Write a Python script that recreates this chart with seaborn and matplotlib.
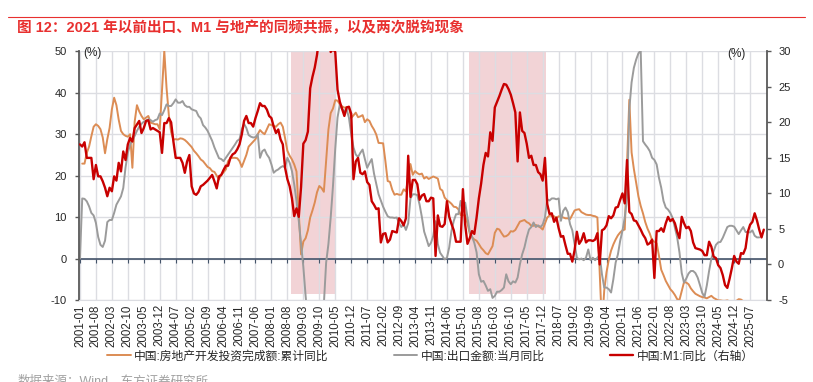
import numpy as np
import pandas as pd
import matplotlib
matplotlib.use('Agg')
import matplotlib.pyplot as plt
import seaborn as sns
from matplotlib.lines import Line2D

sns.set_style('white')
plt.rcParams['font.family'] = ['Liberation Sans', 'Noto Sans CJK SC']
plt.rcParams['axes.unicode_minus'] = False

nan = np.nan

# 月度序列：2001-01 ~ 2026-01
start_month = '2001-01'
end_month = '2026-01'

# 中国:房地产开发投资完成额:累计同比 (左轴, %)
estate_yoy = [
    nan, 22.9, 22.9, 25.5, 27.0, 29.5, 31.8, 32.4, 32.0, 31.2, 29.2, 25.4,  # 2001
    28.8, 31.5, 36.0, 38.8, 37.0, 33.5, 30.8, 30.0, 29.6, 29.4, 30.0, 21.9,  # 2002
    33.0, 37.0, 35.5, 34.4, 33.6, 34.0, 34.4, 32.8, 32.6, 32.4, 32.4, 31.2,  # 2003
    nan, 50.1, 41.1, 34.6, 30.5, 28.7, 28.8, 28.7, 29.0, 28.9, 28.6, 28.1,  # 2004
    nan, 26.9, 26.0, 25.4, 24.7, 23.9, 23.5, 22.8, 22.1, 21.8, 21.1, 20.9,  # 2005
    nan, 19.1, 20.2, 20.8, 21.5, 23.5, 24.2, 24.3, 24.3, 24.2, 23.5, 22.1,  # 2006
    nan, 25.0, 27.0, 27.6, 28.2, 28.8, 30.0, 31.0, 30.4, 30.0, 31.2, 32.4,  # 2007
    nan, 32.0, 31.8, 32.4, 32.8, 31.8, 29.0, 26.0, 24.8, 23.9, 22.7, 21.0,  # 2008
    nan, 1.0, 4.1, 4.9, 6.8, 9.9, 11.6, 13.5, 16.0, 17.5, 17.0, 16.1,  # 2009
    nan, 31.1, 35.1, 36.2, 38.2, 38.1, 37.2, 36.7, 36.4, 36.5, 36.5, 33.9,  # 2010
    nan, 35.2, 34.1, 34.3, 34.6, 32.9, 33.6, 33.2, 32.0, 31.1, 29.9, 27.9,  # 2011
    nan, 27.8, 23.5, 18.7, 18.5, 16.6, 15.4, 15.6, 15.4, 15.4, 16.7, 16.2,  # 2012
    nan, 22.8, 20.2, 21.1, 20.6, 20.3, 20.5, 19.3, 19.7, 19.2, 19.5, 19.8,  # 2013
    nan, 19.3, 16.8, 16.4, 14.7, 14.1, 13.7, 13.2, 12.5, 12.4, 11.9, 10.5,  # 2014
    nan, 10.4, 8.5, 6.0, 5.1, 4.6, 4.3, 3.5, 2.6, 2.0, 1.3, 1.0,  # 2015
    nan, 3.0, 6.2, 7.2, 7.0, 6.1, 5.3, 5.4, 5.8, 6.6, 6.5, 6.9,  # 2016
    nan, 8.9, 9.1, 9.3, 8.8, 8.5, 7.9, 7.9, 8.1, 7.8, 7.5, 7.0,  # 2017
    nan, 9.9, 10.4, 10.3, 10.2, 9.7, 10.2, 10.1, 9.9, 9.7, 9.7, 9.5,  # 2018
    nan, 11.6, 11.8, 11.9, 11.2, 10.9, 10.6, 10.5, 10.5, 10.3, 10.2, 9.9,  # 2019
    nan, -16.3, -7.7, -3.3, -0.3, 1.9, 3.4, 4.6, 5.6, 6.3, 6.8, 7.0,  # 2020
    nan, 38.3, 25.6, 21.6, 18.3, 15.0, 12.7, 10.9, 8.8, 7.2, 6.0, 4.4,  # 2021
    nan, 3.7, 0.7, -2.7, -4.0, -5.4, -6.4, -7.4, -8.0, -8.8, -9.8, -10.0,  # 2022
    nan, -5.7, -5.8, -6.2, -7.2, -7.9, -8.5, -8.8, -9.1, -9.3, -9.4, -9.6,  # 2023
    nan, -9.0, -9.5, -9.8, -10.1, -10.1, -10.2, -10.2, -10.1, -10.3, -10.4, -10.6,  # 2024
    nan, -9.8, -9.9, -10.3, -10.7, -11.2, -12.0, -12.9, -13.9, -14.7, -15.9, -17.2,  # 2025
    nan,  # 2026
]

# 中国:出口金额:当月同比 (左轴, %)
export_yoy = [
    0.0, 14.5, 14.4, 13.8, 12.6, 11.0, 10.4, 8.6, 5.2, 3.3, 2.8, 4.3,  # 2001
    8.8, 9.3, 9.3, 11.0, 13.0, 14.0, 15.0, 17.0, 22.0, 25.5, 27.5, 28.5,  # 2002
    29.6, 30.8, 31.8, 32.5, 33.0, 33.3, 33.6, 33.4, 33.0, 33.4, 33.6, 35.0,  # 2003
    34.6, 35.8, 37.2, 36.8, 36.8, 37.5, 38.4, 37.6, 37.6, 38.0, 37.0, 36.6,  # 2004
    36.6, 36.0, 35.8, 35.6, 34.4, 33.8, 32.2, 31.6, 30.8, 29.6, 28.4, 26.8,  # 2005
    25.5, 24.2, 24.0, 23.5, 24.3, 25.1, 25.9, 26.7, 27.5, 28.4, 28.8, 31.2,  # 2006
    32.5, 31.5, 29.8, 29.4, 29.2, 29.3, 30.0, 24.3, 25.9, 26.3, 25.1, 24.3,  # 2007
    22.7, 20.7, 21.2, 21.5, 22.0, 22.3, 22.0, 24.3, 23.1, 21.1, 17.9, 13.9,  # 2008
    9.1, 3.5, -2.0, -9.0, -15.0, -19.0, -21.0, -21.0, -20.0, -18.0, -15.0, -11.0,  # 2009
    -1.0, 3.5, 9.9, 17.5, 26.5, 34.0, 37.2, 36.0, 35.6, 36.0, 34.0, 30.0,  # 2010
    26.8, 25.1, 24.5, 25.5, 26.3, 24.0, 21.9, 23.0, 24.0, 20.5, 18.0, 15.5,  # 2011
    14.0, 12.5, 11.3, 10.2, 9.9, 9.9, 9.8, 9.9, 8.5, 7.6, 8.3, 6.9,  # 2012
    8.5, 14.5, 15.5, 15.5, 15.3, 13.0, 10.0, 6.5, 4.8, 3.0, 3.8, 5.5,  # 2013
    9.0, 3.5, 1.4, 0.6, -0.2, 0.2, 2.7, 6.7, 9.1, 10.7, 10.7, 13.9,  # 2014
    11.5, 13.5, 10.0, 6.5, 5.3, 3.8, 1.5, -3.8, -5.6, -5.4, -6.5, -7.8,  # 2015
    -7.4, -9.5, -9.0, -8.0, -8.0, -7.6, -7.0, -3.8, -5.5, -6.2, -5.5, -5.8,  # 2016
    -4.6, -1.4, 1.0, 2.7, 5.1, 7.0, 7.6, 8.7, 7.6, 8.0, 7.6, 8.2,  # 2017
    9.9, 14.3, 14.0, 14.5, 14.5, 14.3, 14.5, 9.1, 11.5, 12.3, 11.2, 8.3,  # 2018
    6.8, 3.5, 0.2, -0.2, 0.0, -0.4, 0.2, 2.2, -0.4, 0.2, -0.4, 0.2,  # 2019
    0.9, -3.8, -7.0, -7.0, -7.4, -8.2, -5.0, -1.0, 1.0, 4.3, 6.7, 9.9,  # 2020
    14.7, 36.0, 42.5, 46.0, 48.0, 49.5, 50.2, 28.3, 27.5, 26.8, 25.9, 24.3,  # 2021
    23.8, 22.7, 19.5, 17.1, 13.9, 12.3, 11.8, 11.0, 9.8, 7.5, 5.1, 1.5,  # 2022
    -3.5, -5.8, -4.8, -3.6, -3.0, -3.0, -3.5, -4.6, -6.4, -8.3, -9.2, -6.5,  # 2023
    -3.0, 0.0, 1.8, 3.3, 3.9, 4.0, 5.0, 6.3, 7.6, 7.9, 7.9, 7.7,  # 2024
    6.8, 5.9, 6.8, 7.6, 6.4, 6.4, 6.3, 6.8, 5.5, 5.1, 5.1, nan,  # 2025
    nan,  # 2026
]

# 中国:M1:同比 (右轴, %)
m1_yoy = [
    16.9, 16.6, 17.2, 15.0, 15.0, 15.0, 12.0, 14.0, 12.4, 12.4, 11.7, 10.8,  # 2001
    9.6, 10.8, 10.3, 12.4, 11.8, 14.3, 13.1, 15.9, 14.7, 16.9, 17.8, 17.3,  # 2002
    19.2, 19.7, 20.2, 18.5, 19.2, 20.2, 20.3, 19.0, 19.2, 19.0, 18.8, 18.6,  # 2003
    15.7, 19.9, 19.9, 20.6, 20.0, 17.3, 15.0, 15.0, 15.0, 14.3, 12.9, 14.5,  # 2004
    15.4, 11.0, 10.0, 9.8, 10.2, 11.0, 11.2, 11.5, 11.8, 12.2, 12.6, 11.7,  # 2005
    10.7, 12.4, 12.6, 13.3, 13.9, 13.9, 15.0, 15.5, 15.7, 16.2, 16.9, 18.3,  # 2006
    20.2, 20.9, 19.9, 19.9, 19.4, 20.6, 21.6, 22.7, 22.3, 22.3, 21.8, 20.9,  # 2007
    20.6, 19.4, 18.5, 19.0, 17.6, 16.9, 13.6, 12.0, 11.0, 9.3, 6.8, 7.9,  # 2008
    6.7, 10.9, 17.0, 17.5, 18.7, 24.8, 26.4, 27.7, 29.5, 32.0, 34.6, 32.4,  # 2009
    39.0, 35.0, 29.9, 30.3, 29.9, 24.6, 22.9, 21.9, 20.9, 22.1, 22.2, 21.2,  # 2010
    12.0, 14.5, 15.0, 12.9, 12.7, 13.1, 11.6, 11.2, 8.9, 8.4, 7.8, 7.9,  # 2011
    3.1, 4.3, 4.4, 3.1, 3.5, 4.7, 4.6, 4.5, 6.5, 6.1, 5.5, 6.5,  # 2012
    15.3, 9.5, 11.9, 11.9, 11.3, 9.1, 9.7, 9.9, 8.9, 8.9, 9.4, 9.3,  # 2013
    1.2, 6.9, 5.4, 5.3, 5.7, 8.9, 6.7, 5.7, 4.8, 3.2, 3.2, 3.2,  # 2014
    10.6, 5.6, 2.9, 3.7, 4.7, 4.3, 6.6, 9.3, 11.4, 14.0, 15.7, 15.2,  # 2015
    18.6, 17.4, 22.1, 22.9, 23.7, 24.6, 25.4, 25.3, 24.7, 23.9, 22.7, 21.4,  # 2016
    14.5, 21.4, 18.8, 18.5, 17.0, 15.0, 15.3, 14.0, 14.0, 13.0, 12.7, 11.8,  # 2017
    15.0, 8.5, 7.1, 7.2, 6.0, 6.6, 5.1, 3.9, 4.0, 2.7, 1.5, 1.5,  # 2018
    0.4, 2.0, 4.6, 2.9, 3.4, 4.4, 3.1, 3.4, 3.4, 3.3, 3.5, 4.4,  # 2019
    0.0, 4.8, 5.0, 5.5, 6.8, 6.5, 6.9, 8.0, 8.1, 9.1, 10.0, 8.6,  # 2020
    14.7, 7.4, 7.1, 6.2, 6.1, 5.5, 4.9, 4.2, 3.7, 2.8, 3.0, 3.5,  # 2021
    -1.9, 4.7, 4.7, 5.1, 4.6, 5.8, 6.7, 6.1, 6.4, 5.8, 4.6, 3.7,  # 2022
    6.7, 5.8, 5.1, 5.3, 4.7, 3.1, 2.3, 2.2, 2.1, 1.9, 1.3, 1.3,  # 2023
    3.2, 2.5, 1.1, 0.9, -0.1, -0.5, -1.5, -2.9, -3.3, -2.0, -0.5, 1.2,  # 2024
    0.4, 0.1, 1.6, 1.5, 2.3, 4.6, 5.6, 6.0, 7.2, 6.2, 4.9, 3.8,  # 2025
    4.9,  # 2026
]

# 两次脱钩区间
decouple_periods = [('2008-10', '2010-05'), ('2015-04', '2018-01')]

labels = ['中国:房地产开发投资完成额:累计同比', '中国:出口金额:当月同比', '中国:M1:同比（右轴）']
colors = ['#dc8c54', '#9b9b9b', '#c80000']

months = pd.period_range(start_month, end_month, freq='M')
df = pd.DataFrame({
    'idx': np.arange(len(months)),
    'estate': estate_yoy,
    'export': export_yoy,
    'm1': m1_yoy,
})

fig = plt.figure(figsize=(8.13, 3.82), dpi=100)
ax = fig.add_axes([0.0975, 0.2147, 0.8459, 0.651])
ax2 = ax.twinx()

# 阴影
for a, b in decouple_periods:
    x0 = months.get_loc(pd.Period(a, 'M')) - 0.3
    x1 = months.get_loc(pd.Period(b, 'M')) + 0.3
    ax.axvspan(x0, x1, ymin=0.025, ymax=1, color='#f2d3d6', lw=0, zorder=0.2)

sns.lineplot(data=df.dropna(subset=['estate']), x='idx', y='estate', ax=ax,
             color=colors[0], lw=1.4, errorbar=None, label=labels[0], zorder=2)
sns.lineplot(data=df.dropna(subset=['export']), x='idx', y='export', ax=ax,
             color=colors[1], lw=1.4, errorbar=None, label=labels[1], zorder=2.1)
sns.lineplot(data=df.dropna(subset=['m1']), x='idx', y='m1', ax=ax2,
             color=colors[2], lw=1.7, errorbar=None, label=labels[2])

# 0轴
tick_pos = np.arange(0, len(months), 7)
ax.axhline(0, color='#44546a', lw=1.2, zorder=1.5)
ax.plot(tick_pos, np.zeros(len(tick_pos)), ls='none', marker=3, ms=3, mew=0.8,
        color='#44546a', zorder=1.5)

ax.set_xlim(-0.3, len(months) + 0.4)
ax.set_ylim(-10, 50)
ax.set_yticks(np.arange(-10, 51, 10))
ax2.set_ylim(-5, 30)
ax2.set_yticks(np.arange(-5, 31, 5))

ax.set_xticks(tick_pos)
ax.set_xticklabels([months[i].strftime('%Y-%m') for i in tick_pos], rotation=90)
ax.set_axisbelow(True)
ax.grid(True, color='#dcdde2', lw=1.0)
ax2.grid(False)

for a in (ax, ax2):
    a.set_xlabel('')
    a.set_ylabel('')
    a.spines['top'].set_visible(False)
ax.spines['right'].set_visible(False)
ax.spines['bottom'].set_color('#dcdde2')
ax.spines['left'].set_color('#595959')
ax.spines['left'].set_linewidth(1.3)
ax2.spines['left'].set_visible(False)
ax2.spines['bottom'].set_visible(False)
ax2.spines['right'].set_color('#595959')
ax2.spines['right'].set_linewidth(1.3)

ax.tick_params(axis='y', direction='out', length=3, width=1, color='#595959',
               labelsize=8, pad=6, labelcolor='#262626')
ax.tick_params(axis='x', length=0, labelsize=8.3, pad=3, labelcolor='#262626')
ax2.tick_params(axis='y', direction='out', length=3, width=1, color='#595959',
                labelsize=8, pad=5, labelcolor='#262626')

ax.text(0.006, 0.993, '(%)', transform=ax.transAxes, ha='left', va='center', fontsize=8.5, color='#262626')
ax2.text(0.955, 0.99, '(%)', transform=ax2.transAxes, ha='center', va='center', fontsize=8.5, color='#262626')

# 图例
h1, l1 = ax.get_legend_handles_labels()
h2, l2 = ax2.get_legend_handles_labels()
ax.get_legend().remove()
ax2.get_legend().remove()
fig.legend(h1 + h2, l1 + l2, loc='center', bbox_to_anchor=(0.5295, 0.067), ncol=3,
           frameon=False, fontsize=8.5, handlelength=2.0, handletextpad=0.3,
           columnspacing=5.5, labelcolor='#262626')

# 标题
title_color = '#e8302f'
fig.add_artist(Line2D([0.01, 0.99], [1 - 17 / 382] * 2, color=title_color, lw=0.8))
fig.text(0.021, 1 - 28 / 382, '图 12：2021 年以前出口、M1 与地产的同频共振，以及两次脱钩现象',
         color=title_color, fontsize=10.5, fontweight='bold', va='center', ha='left')
fig.text(0.021, 1 - 381 / 382, '数据来源：Wind，东方证券研究所', color='#a0a0a0',
         fontsize=9, va='center', ha='left')

fig.savefig('out.png', dpi=100)
